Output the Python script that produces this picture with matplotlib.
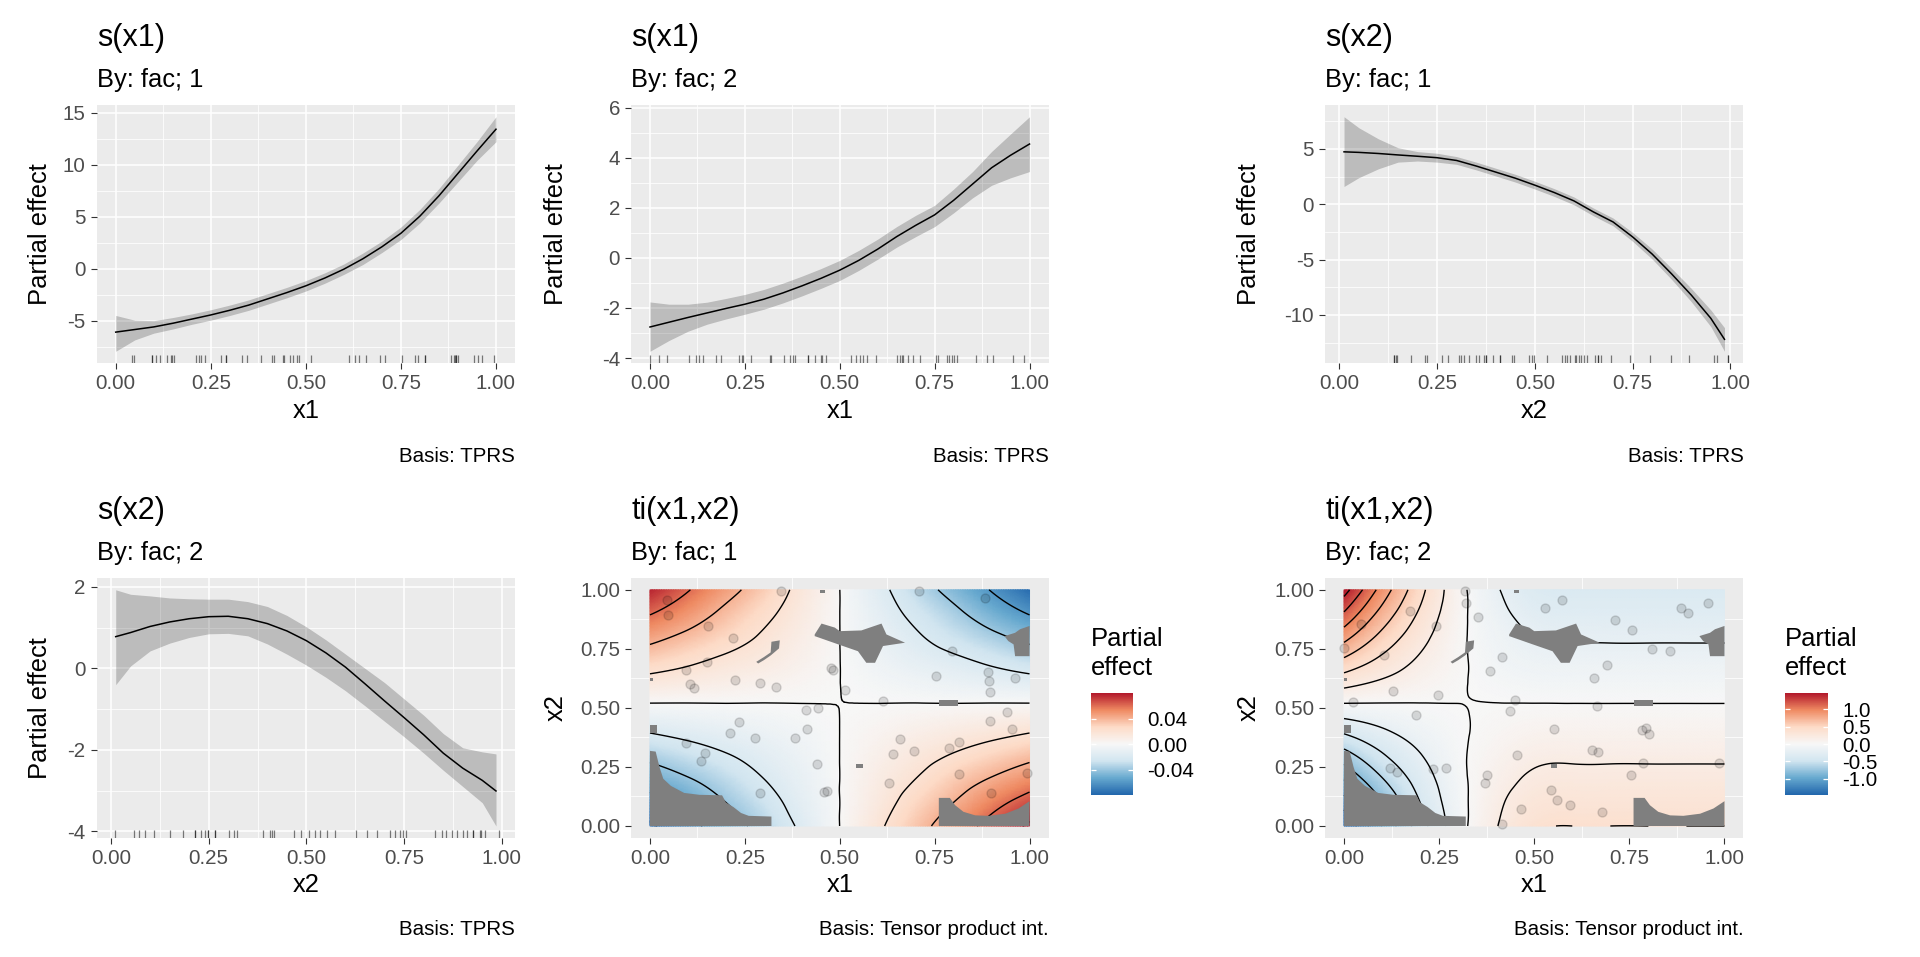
import numpy as np
import matplotlib
matplotlib.use("Agg")
import matplotlib.pyplot as plt
import matplotlib.tri as mtri
from matplotlib.colors import LinearSegmentedColormap, Normalize
from matplotlib.patches import Polygon
from matplotlib.ticker import MultipleLocator, FormatStrFormatter
import matplotlib.cm as cm

plt.rcParams['font.family'] = ['Liberation Sans', 'DejaVu Sans']
plt.rcParams['axes.unicode_minus'] = False
plt.rcParams['contour.negative_linestyle'] = 'solid'

# ---------------------------------------------------------------- data
# observations (x1, x2) for each level of fac
obs_f1_x1 = [0.044, 0.048, 0.154, 0.218, 0.346, 0.149, 0.096, 0.105, 0.116, 0.223,
             0.289, 0.332, 0.478, 0.481, 0.513, 0.614, 0.709, 0.882, 0.796, 0.754,
             0.890, 0.893, 0.895, 0.963, 0.410, 0.443, 0.234, 0.211, 0.276, 0.382,
             0.415, 0.096, 0.146, 0.134, 0.441, 0.291, 0.458, 0.467, 0.658, 0.640,
             0.695, 0.630, 0.788, 0.814, 0.813, 0.895, 0.941, 0.954, 0.899, 0.994]
obs_f1_x2 = [0.958, 0.894, 0.847, 0.795, 0.993, 0.696, 0.661, 0.602, 0.583, 0.619,
             0.605, 0.590, 0.668, 0.661, 0.576, 0.531, 0.993, 0.965, 0.743, 0.633,
             0.654, 0.612, 0.569, 0.626, 0.492, 0.499, 0.442, 0.393, 0.374, 0.374,
             0.412, 0.350, 0.311, 0.277, 0.263, 0.141, 0.145, 0.148, 0.369, 0.305,
             0.319, 0.184, 0.332, 0.357, 0.220, 0.446, 0.484, 0.410, 0.141, 0.223]
obs_f2_x1 = [0.317, 0.320, 0.352, 0.174, 0.045, 0.243, 0.000, 0.104, 0.128, 0.246,
             0.023, 0.416, 0.383, 0.450, 0.436, 0.529, 0.573, 0.711, 0.758, 0.810,
             0.858, 0.887, 0.903, 0.956, 0.692, 0.658, 0.665, 0.188, 0.553, 0.782,
             0.795, 0.801, 0.454, 0.652, 0.667, 0.787, 0.985, 0.754, 0.121, 0.139,
             0.234, 0.267, 0.377, 0.370, 0.544, 0.560, 0.595, 0.465, 0.679, 0.416]
obs_f2_x2 = [0.993, 0.946, 0.885, 0.911, 0.857, 0.847, 0.755, 0.726, 0.573, 0.553,
             0.523, 0.715, 0.655, 0.535, 0.485, 0.925, 0.956, 0.872, 0.830, 0.748,
             0.740, 0.925, 0.901, 0.945, 0.681, 0.627, 0.506, 0.468, 0.411, 0.407,
             0.417, 0.390, 0.301, 0.322, 0.315, 0.265, 0.265, 0.216, 0.247, 0.230,
             0.240, 0.247, 0.216, 0.183, 0.152, 0.109, 0.088, 0.071, 0.060, 0.010]

# s(x1) evaluation grid
x1_eval = [0.00, 0.05, 0.10, 0.15, 0.20, 0.25, 0.30, 0.35, 0.40, 0.45, 0.50,
           0.55, 0.60, 0.65, 0.70, 0.75, 0.80, 0.85, 0.90, 0.95, 1.00]
# s(x2) evaluation grid
x2_eval = [0.012, 0.05, 0.10, 0.15, 0.20, 0.25, 0.30, 0.35, 0.40, 0.45, 0.50,
           0.55, 0.60, 0.65, 0.70, 0.75, 0.80, 0.85, 0.90, 0.95, 0.985]

# s(x1), fac 1
s_x1_f1_est = [-6.10, -5.85, -5.60, -5.25, -4.85, -4.45, -4.00, -3.50, -2.90, -2.30, -1.65,
               -0.90, -0.05, 0.95, 2.10, 3.40, 5.05, 7.00, 9.15, 11.30, 13.40]
s_x1_f1_upr = [-4.50, -4.95, -5.00, -4.70, -4.35, -3.95, -3.50, -3.00, -2.40, -1.80, -1.15,
               -0.40, 0.45, 1.50, 2.65, 4.00, 5.70, 7.70, 9.95, 12.20, 14.60]
s_x1_f1_lwr = [-7.94, -6.85, -6.20, -5.80, -5.35, -4.95, -4.50, -4.00, -3.40, -2.80, -2.15,
               -1.40, -0.55, 0.40, 1.55, 2.80, 4.40, 6.30, 8.35, 10.40, 12.20]
# s(x1), fac 2
s_x1_f2_est = [-2.76, -2.57, -2.38, -2.20, -2.02, -1.85, -1.65, -1.40, -1.12, -0.82, -0.49,
               -0.10, 0.35, 0.85, 1.30, 1.72, 2.30, 2.95, 3.60, 4.10, 4.55]
s_x1_f2_upr = [-1.76, -1.85, -1.85, -1.77, -1.62, -1.46, -1.26, -1.01, -0.73, -0.43, -0.10,
               0.30, 0.75, 1.25, 1.70, 2.10, 2.75, 3.45, 4.25, 4.95, 5.64]
s_x1_f2_lwr = [-3.73, -3.30, -2.93, -2.65, -2.44, -2.25, -2.05, -1.80, -1.52, -1.22, -0.90,
               -0.50, -0.05, 0.43, 0.85, 1.25, 1.80, 2.40, 2.90, 3.20, 3.45]
# s(x2), fac 1
s_x2_f1_est = [4.73, 4.68, 4.58, 4.45, 4.33, 4.20, 3.95, 3.45, 2.90, 2.35, 1.72,
               1.05, 0.30, -0.70, -1.60, -2.95, -4.50, -6.30, -8.20, -10.30, -12.20]
s_x2_f1_upr = [7.90, 6.90, 5.90, 5.10, 4.75, 4.60, 4.30, 3.80, 3.25, 2.70, 2.07,
               1.40, 0.65, -0.35, -1.25, -2.55, -4.05, -5.80, -7.60, -9.55, -11.15]
s_x2_f1_lwr = [1.60, 2.40, 3.20, 3.80, 3.90, 3.80, 3.60, 3.10, 2.55, 2.00, 1.37,
               0.70, -0.05, -1.05, -1.95, -3.35, -4.95, -6.80, -8.80, -11.05, -13.28]
# s(x2), fac 2
s_x2_f2_est = [0.78, 0.88, 1.03, 1.14, 1.22, 1.27, 1.28, 1.22, 1.10, 0.92, 0.68,
               0.38, 0.03, -0.38, -0.80, -1.21, -1.63, -2.08, -2.45, -2.75, -3.01]
s_x2_f2_upr = [1.93, 1.82, 1.78, 1.73, 1.71, 1.70, 1.70, 1.64, 1.52, 1.30, 1.02,
               0.70, 0.35, 0.00, -0.35, -0.75, -1.15, -1.60, -1.95, -2.05, -2.10]
s_x2_f2_lwr = [-0.40, 0.06, 0.43, 0.62, 0.76, 0.85, 0.86, 0.80, 0.60, 0.35, 0.08,
               -0.22, -0.55, -0.92, -1.30, -1.68, -2.08, -2.50, -2.90, -3.30, -3.87]

# ti(x1,x2) surfaces (rows: x2, columns: x1)
ti_f1_x1 = [0.0, 0.1, 0.2, 0.3, 0.4, 0.6, 0.7, 0.8, 0.9, 1.0]
ti_f1_x2 = [0.0, 0.1, 0.2, 0.3, 0.4, 0.5, 0.6, 0.7, 0.8, 0.9, 1.0]
ti_f1_est = [
    [-0.083, -0.066, -0.050, -0.033, -0.017, 0.017, 0.033, 0.050, 0.066, 0.083],
    [-0.067, -0.054, -0.040, -0.027, -0.013, 0.013, 0.027, 0.040, 0.054, 0.067],
    [-0.051, -0.041, -0.031, -0.020, -0.010, 0.010, 0.020, 0.031, 0.041, 0.051],
    [-0.035, -0.028, -0.021, -0.014, -0.007, 0.007, 0.014, 0.021, 0.028, 0.035],
    [-0.019, -0.015, -0.0115, -0.0077, -0.0038, 0.0038, 0.0077, 0.0115, 0.015, 0.019],
    [-0.0032, -0.0026, -0.0019, -0.0013, -0.0006, 0.0006, 0.0013, 0.0019, 0.0026, 0.0032],
    [0.0128, 0.0102, 0.0077, 0.0051, 0.0026, -0.0026, -0.0051, -0.0077, -0.0102, -0.0128],
    [0.029, 0.023, 0.017, 0.012, 0.006, -0.006, -0.012, -0.017, -0.023, -0.029],
    [0.045, 0.036, 0.027, 0.018, 0.009, -0.009, -0.018, -0.027, -0.036, -0.045],
    [0.061, 0.049, 0.036, 0.024, 0.012, -0.012, -0.024, -0.036, -0.049, -0.061],
    [0.077, 0.061, 0.046, 0.031, 0.015, -0.015, -0.031, -0.046, -0.061, -0.077],
]
ti_f2_x1 = [0.0, 0.1, 0.2, 0.3, 0.4, 0.5, 0.6, 0.7, 0.8, 0.9, 1.0]
ti_f2_x2 = [0.0, 0.1, 0.2, 0.3, 0.4, 0.5, 0.6, 0.7, 0.8, 0.9, 1.0]
ti_f2_est = [
    [-1.61, -1.00, -0.50, -0.08, 0.19, 0.37, 0.40, 0.40, 0.40, 0.40, 0.40],
    [-1.30, -0.81, -0.40, -0.07, 0.16, 0.30, 0.325, 0.325, 0.325, 0.325, 0.325],
    [-0.99, -0.61, -0.31, -0.05, 0.12, 0.23, 0.25, 0.25, 0.25, 0.25, 0.25],
    [-0.68, -0.42, -0.21, -0.03, 0.08, 0.16, 0.17, 0.17, 0.17, 0.17, 0.17],
    [-0.37, -0.23, -0.11, -0.02, 0.04, 0.085, 0.093, 0.093, 0.093, 0.093, 0.093],
    [-0.06, -0.04, -0.02, -0.003, 0.007, 0.014, 0.015, 0.015, 0.015, 0.015, 0.015],
    [0.25, 0.155, 0.078, 0.013, -0.030, -0.058, -0.063, -0.063, -0.063, -0.063, -0.063],
    [0.56, 0.35, 0.17, 0.03, -0.07, -0.13, -0.14, -0.14, -0.14, -0.14, -0.14],
    [0.87, 0.54, 0.27, 0.04, -0.10, -0.20, -0.22, -0.22, -0.22, -0.22, -0.22],
    [1.18, 0.73, 0.37, 0.06, -0.14, -0.27, -0.295, -0.295, -0.295, -0.295, -0.295],
    [1.49, 0.92, 0.46, 0.07, -0.18, -0.34, -0.37, -0.37, -0.37, -0.37, -0.37],
]
ti_f1_limit = 0.08
ti_f2_limit = 1.47
ti_f1_levels = [-0.08, -0.06, -0.04, -0.02, 0.0, 0.02, 0.04, 0.06, 0.08]
ti_f2_levels = [-1.4, -1.2, -1.0, -0.8, -0.6, -0.4, -0.2, 0.0, 0.2, 0.4, 0.6, 0.8, 1.0, 1.2, 1.4]
ti_f1_cbar_ticks = [-0.04, 0.0, 0.04]
ti_f2_cbar_ticks = [-1.0, -0.5, 0.0, 0.5, 1.0]

# regions too far from the data (excluded, drawn grey)
too_far_regions = [
    [(0, 0), (0, 0.318), (0.015, 0.315), (0.025, 0.25), (0.035, 0.20), (0.055, 0.17), (0.09, 0.14),
     (0.13, 0.132), (0.19, 0.13), (0.20, 0.10), (0.22, 0.08), (0.24, 0.055), (0.26, 0.043),
     (0.32, 0.04), (0.32, 0)],
    [(0, 0.393), (0.018, 0.393), (0.018, 0.428), (0, 0.428)],
    [(0.434, 0.811), (0.452, 0.857), (0.487, 0.840), (0.50, 0.825), (0.557, 0.828), (0.610, 0.857),
     (0.623, 0.811), (0.672, 0.776), (0.614, 0.762), (0.593, 0.691), (0.570, 0.691), (0.548, 0.740),
     (0.496, 0.769), (0.434, 0.804)],
    [(0.280, 0.695), (0.300, 0.715), (0.318, 0.735), (0.320, 0.780), (0.342, 0.786), (0.340, 0.752),
     (0.318, 0.722), (0.300, 0.702), (0.285, 0.688)],
    [(0.447, 0.985), (0.46, 0.985), (0.46, 1.0), (0.447, 1.0)],
    [(0.934, 0.804), (0.962, 0.818), (0.975, 0.833), (1.0, 0.847), (1.0, 0.719), (0.962, 0.719),
     (0.958, 0.769), (0.944, 0.783)],
    [(0.761, 0.51), (0.811, 0.51), (0.811, 0.535), (0.761, 0.535)],
    [(0.544, 0.247), (0.56, 0.247), (0.56, 0.261), (0.544, 0.261)],
    [(0, 0.616), (0.009, 0.616), (0.009, 0.627), (0, 0.627)],
    [(0.761, 0.0), (0.761, 0.119), (0.79, 0.119), (0.804, 0.088), (0.826, 0.06), (0.857, 0.045),
     (0.892, 0.043), (0.936, 0.052), (0.971, 0.074), (1.0, 0.105), (1.0, 0.0)],
]

# ---------------------------------------------------------------- style
W, H = 1920, 957
BG = '#EBEBEB'
RDBU = ['#2166AC', '#67A9CF', '#D1E5F0', '#F7F7F7', '#FDDBC7', '#EF8A62', '#B2182B']
cmap = LinearSegmentedColormap.from_list('rdbu_div', RDBU, N=256)

fig = plt.figure(figsize=(19.2, 9.57), dpi=100)
fig.patch.set_facecolor('white')


def add_ax(l, t, r, b):
    return fig.add_axes([l / W, 1 - b / H, (r - l) / W, (b - t) / H])


def expand(vals_lo, vals_hi, m=0.05):
    lo, hi = min(vals_lo), max(vals_hi)
    d = hi - lo
    return lo - m * d, hi + m * d


def style(ax, xstep, ystep, xfmt, yfmt):
    ax.set_facecolor(BG)
    for s in ax.spines.values():
        s.set_visible(False)
    ax.xaxis.set_major_locator(MultipleLocator(xstep))
    ax.xaxis.set_minor_locator(MultipleLocator(xstep / 2))
    ax.yaxis.set_major_locator(MultipleLocator(ystep))
    ax.yaxis.set_minor_locator(MultipleLocator(ystep / 2))
    ax.xaxis.set_major_formatter(FormatStrFormatter(xfmt))
    ax.yaxis.set_major_formatter(FormatStrFormatter(yfmt))
    ax.grid(which='major', color='white', lw=1.1)
    ax.grid(which='minor', color='white', lw=0.55)
    ax.set_axisbelow(True)
    ax.tick_params(which='major', length=4.6, width=0.8, color='#333333',
                   labelcolor='#4D4D4D', labelsize=14.8, pad=3.3)
    ax.tick_params(which='minor', length=0)


def head(l, r, row_off, title, subtitle, caption, ylabel, ylab_x, yc):
    fig.text(l / W, 1 - (46 + row_off) / H, title, fontsize=22, va='baseline', ha='left')
    fig.text(l / W, 1 - (86.7 + row_off) / H, subtitle, fontsize=18.4, va='baseline', ha='left')
    fig.text(r / W, 1 - (462 + row_off) / H, caption, fontsize=14.8, va='baseline', ha='right')
    fig.text(ylab_x / W, 1 - yc / H, ylabel, fontsize=18.4, rotation=90,
             va='center', ha='center')


def smooth_panel(box, x, est, lwr, upr, rug, title, subtitle, xlabel, ystep, ylab_x, row_off):
    l, t, r, b = box
    ax = add_ax(l, t, r, b)
    style(ax, 0.25, ystep, '%.2f', '%d')
    ax.fill_between(x, lwr, upr, color='black', alpha=0.2, lw=0)
    ax.plot(x, est, color='black', lw=1.1)
    ax.vlines(rug, 0, 0.03, transform=ax.get_xaxis_transform(), color='black',
              alpha=0.5, lw=0.9)
    ax.set_xlim(*expand(x, x))
    ax.set_ylim(*expand(lwr, upr))
    ax.set_xlabel(xlabel, fontsize=18.4, labelpad=4)
    head(l, r, row_off, title, subtitle, 'Basis: TPRS', 'Partial effect', ylab_x, (t + b) / 2)
    return ax


def ti_panel(box, gx, gy, z, obs_x, obs_y, limit, levels, cbar_box, cbar_ticks, cbar_fmt,
             title, subtitle, ylab_x):
    l, t, r, b = box
    ax = add_ax(l, t, r, b)
    style(ax, 0.25, 0.25, '%.2f', '%.2f')
    X, Y = np.meshgrid(gx, gy)
    tri = mtri.Triangulation(X.ravel(), Y.ravel())
    refiner = mtri.UniformTriRefiner(tri)
    tri_f, z_f = refiner.refine_field(np.asarray(z, float).ravel(), subdiv=4)
    norm = Normalize(-limit, limit)
    ax.tripcolor(tri_f, z_f, shading='gouraud', cmap=cmap, norm=norm, zorder=1)
    ax.tricontour(tri_f, z_f, levels=levels, colors='black', linewidths=1.0,
                  linestyles='solid', zorder=2)
    for poly in too_far_regions:
        ax.add_patch(Polygon(poly, closed=True, facecolor='#7F7F7F', edgecolor='none', zorder=3))
    ax.scatter(obs_x, obs_y, s=42, facecolor=(0, 0, 0, 0.13), edgecolor=(0, 0, 0, 0.14),
               linewidths=1.0, zorder=4)
    ax.set_xlim(*expand(gx, gx))
    ax.set_ylim(*expand(gy, gy))
    ax.set_xlabel('x1', fontsize=18.4, labelpad=4)
    head(l, r, 473, title, subtitle, 'Basis: Tensor product int.', 'x2', ylab_x, (t + b) / 2)
    # colour bar
    cl, ct, cr, cb_ = cbar_box
    cax = add_ax(cl, ct, cr, cb_)
    sm = cm.ScalarMappable(norm=norm, cmap=cmap)
    cbar = fig.colorbar(sm, cax=cax, ticks=cbar_ticks, format=FormatStrFormatter(cbar_fmt))
    cbar.outline.set_visible(False)
    cax.tick_params(which='major', direction='in', color='white', length=3.8, width=0.9,
                    left=True, right=True, labelleft=False, labelright=True,
                    labelsize=14.8, labelcolor='black', pad=10)
    cax.tick_params(which='minor', length=0)
    fig.text(cl / W, 1 - 646.5 / H, 'Partial', fontsize=18.4, va='baseline', ha='left')
    fig.text(cl / W, 1 - 675 / H, 'effect', fontsize=18.4, va='baseline', ha='left')
    return ax


# row 1
smooth_panel((96.7, 105, 515, 363), x1_eval, s_x1_f1_est, s_x1_f1_lwr, s_x1_f1_upr, obs_f1_x1,
             's(x1)', 'By: fac; 1', 'x1', 5, 40, 0)
smooth_panel((631, 105, 1048.5, 363), x1_eval, s_x1_f2_est, s_x1_f2_lwr, s_x1_f2_upr, obs_f2_x1,
             's(x1)', 'By: fac; 2', 'x1', 2, 556, 0)
smooth_panel((1325, 105, 1743.5, 363), x2_eval, s_x2_f1_est, s_x2_f1_lwr, s_x2_f1_upr, obs_f1_x2,
             's(x2)', 'By: fac; 1', 'x2', 5, 1249, 0)

# row 2
smooth_panel((96.7, 578, 515, 837.8), x2_eval, s_x2_f2_est, s_x2_f2_lwr, s_x2_f2_upr, obs_f2_x2,
             's(x2)', 'By: fac; 2', 'x2', 2, 40, 473)
ti_panel((631, 578, 1048.5, 837.8), ti_f1_x1, ti_f1_x2, ti_f1_est, obs_f1_x1, obs_f1_x2,
         ti_f1_limit, ti_f1_levels, (1091, 693, 1133.3, 795), ti_f1_cbar_ticks, '%.2f',
         'ti(x1,x2)', 'By: fac; 1', 556)
ti_panel((1325, 578, 1743.5, 837.8), ti_f2_x1, ti_f2_x2, ti_f2_est, obs_f2_x1, obs_f2_x2,
         ti_f2_limit, ti_f2_levels, (1785, 693, 1828.3, 795), ti_f2_cbar_ticks, '%.1f',
         'ti(x1,x2)', 'By: fac; 2', 1249)

fig.savefig('out.png', dpi=100)
